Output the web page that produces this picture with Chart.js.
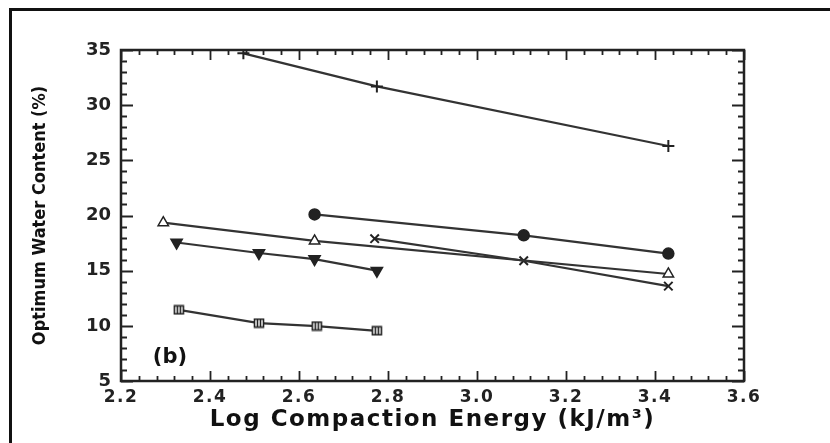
<!DOCTYPE html>
<html>
<head>
<meta charset="utf-8">
<script src="https://cdn.jsdelivr.net/npm/chart.js@4"></script>
<style>
  body { margin: 0; background: #fff; }
  #wrap { position: relative; width: 830px; height: 443px; }
  #frame { position: absolute; left: 9px; top: 8px; right: 0; bottom: 0;
           border-left: 3px solid #111; border-top: 3px solid #111; pointer-events: none; }
</style>
</head>
<body>
<div id="wrap">
  <canvas id="chart" width="830" height="443"></canvas>
  <div id="frame"></div>
</div>
<script>
// values
const plusX = [2.475, 2.775, 3.43];
const plusY = [34.7, 31.7, 26.3];
const circleX = [2.635, 3.105, 3.43];
const circleY = [20.1, 18.2, 16.55];
const triX = [2.295, 2.635, 3.43];
const triY = [19.35, 17.7, 14.7];
const crossX = [2.77, 3.105, 3.43];
const crossY = [17.9, 15.9, 13.6];
const downX = [2.325, 2.51, 2.635, 2.775];
const downY = [17.55, 16.6, 16.05, 15.0];
const boxX = [2.33, 2.51, 2.64, 2.775];
const boxY = [11.45, 10.25, 9.98, 9.55];

const xTicks = [2.2, 2.4, 2.6, 2.8, 3.0, 3.2, 3.4, 3.6];
const yTicks = [5, 10, 15, 20, 25, 30, 35];

const ink = "#222";

// square with vertical bars marker
function boxMarker() {
  const c = document.createElement("canvas");
  c.width = 12; c.height = 11;
  const g = c.getContext("2d");
  g.fillStyle = "#fff";
  g.fillRect(1, 1, 10, 9);
  g.strokeStyle = ink;
  g.lineWidth = 1.6;
  g.strokeRect(1.5, 1.5, 9, 8);
  g.beginPath();
  g.moveTo(4.5, 1.5); g.lineTo(4.5, 9.5);
  g.moveTo(7.5, 1.5); g.lineTo(7.5, 9.5);
  g.stroke();
  return c;
}

function pts(xs, ys) {
  return xs.map((x, i) => ({ x: x, y: ys[i] }));
}

function series(label, xs, ys, style, extra) {
  return Object.assign({
    label: label,
    data: pts(xs, ys),
    showLine: true,
    borderColor: "#333",
    borderWidth: 2.2,
    pointStyle: style,
    pointRadius: 5.5,
    pointBorderColor: ink,
    pointBackgroundColor: ink,
    pointBorderWidth: 1.5
  }, extra || {});
}

// frame on four sides with inward ticks, plus the panel tag
const framePlugin = {
  id: "frame",
  afterDatasetsDraw(chart) {
    const ctx = chart.ctx;
    const a = chart.chartArea;
    const xs = chart.scales.x, ys = chart.scales.y;
    ctx.save();
    ctx.strokeStyle = ink;
    ctx.lineWidth = 2.5;
    ctx.strokeRect(a.left, a.top, a.right - a.left, a.bottom - a.top);
    ctx.lineWidth = 1.8;
    ctx.beginPath();
    for (let v = 2.2; v <= 3.6001; v += 0.04) {
      const major = xTicks.some(t => Math.abs(t - v) < 1e-6);
      const len = major ? 10 : 5;
      const px = Math.round(xs.getPixelForValue(v)) + 0.5;
      ctx.moveTo(px, a.bottom); ctx.lineTo(px, a.bottom - len);
      ctx.moveTo(px, a.top); ctx.lineTo(px, a.top + len);
    }
    for (let v = 5; v <= 35; v += 1) {
      const major = yTicks.includes(v);
      const len = major ? 12 : 6;
      const py = Math.round(ys.getPixelForValue(v)) + 0.5;
      ctx.moveTo(a.left, py); ctx.lineTo(a.left + len, py);
      ctx.moveTo(a.right, py); ctx.lineTo(a.right - len, py);
    }
    ctx.stroke();
    ctx.fillStyle = "#111";
    ctx.font = "bold 21px 'DejaVu Sans'";
    ctx.textAlign = "center";
    ctx.textBaseline = "middle";
    ctx.fillText("(b)", xs.getPixelForValue(2.31), ys.getPixelForValue(7.1));
    ctx.restore();
  }
};

// the x axis lettering is widely spaced; its layers (z 1) are drawn after the datasets
const spacingPlugin = {
  id: "spacing",
  beforeDraw(chart) { chart.ctx.letterSpacing = "0px"; },
  afterDatasetsDraw(chart) { chart.ctx.letterSpacing = "1.5px"; },
  afterDraw(chart) { chart.ctx.letterSpacing = "0px"; }
};

new Chart(document.getElementById("chart").getContext("2d"), {
  type: "scatter",
  data: {
    datasets: [
      series("plus", plusX, plusY, "cross", { pointRadius: 6, pointBorderWidth: 2 }),
      series("circle", circleX, circleY, "circle"),
      series("triangle", triX, triY, "triangle", { pointBackgroundColor: "#fff", pointRadius: 6 }),
      series("cross", crossX, crossY, "crossRot", { pointRadius: 6, pointBorderWidth: 2 }),
      series("down", downX, downY, "triangle", { pointRotation: 180, pointRadius: 6.5 }),
      series("box", boxX, boxY, boxMarker())
    ]
  },
  options: {
    responsive: false,
    animation: false,
    devicePixelRatio: 1,
    layout: { padding: { left: 0, right: 86, top: 50, bottom: 0 } },
    plugins: { legend: { display: false }, tooltip: { enabled: false } },
    scales: {
      x: {
        type: "linear",
        min: 2.2, max: 3.6,
        afterBuildTicks: s => { s.ticks = xTicks.map(v => ({ value: v })); },
        afterFit: s => { s.height = 62; },
        grid: { display: false, drawTicks: false, z: 1 },
        border: { display: false },
        ticks: {
          z: 1,
          padding: 6,
          color: "#222",
          font: { family: "DejaVu Sans", size: 17, weight: "bold" },
          callback: v => v.toFixed(1)
        },
        title: {
          display: true,
          text: "Log Compaction Energy (kJ/m³)",
          color: "#111",
          font: { family: "DejaVu Sans", size: 23, weight: "bold" },
          padding: { top: 0, bottom: 9 }
        }
      },
      y: {
        type: "linear",
        min: 5, max: 35,
        afterBuildTicks: s => { s.ticks = yTicks.map(v => ({ value: v })); },
        afterFit: s => { s.width = 121; },
        grid: { display: false, drawTicks: false },
        border: { display: false },
        ticks: {
          padding: 10,
          color: "#222",
          font: { family: "DejaVu Sans", size: 18, weight: "bold" }
        },
        title: {
          display: true,
          text: "Optimum Water Content (%)",
          color: "#111",
          font: { family: "DejaVu Sans Condensed", size: 18, weight: "bold" },
          padding: { top: 30, bottom: 0 }
        }
      }
    }
  },
  plugins: [framePlugin, spacingPlugin]
});
</script>
</body>
</html>
